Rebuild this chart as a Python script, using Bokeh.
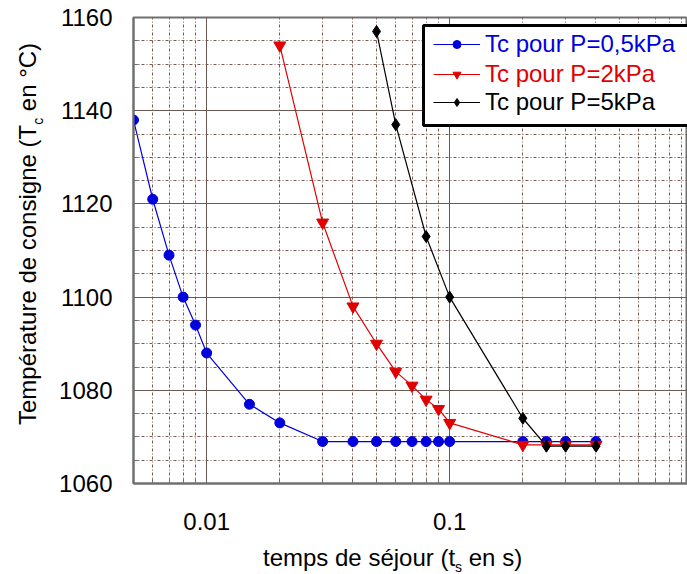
from bokeh.plotting import figure
from bokeh.models import (Legend, LegendItem, BoxAnnotation, FixedTicker, Div)
from bokeh.layouts import row, column
from bokeh.embed import file_html
from bokeh.resources import INLINE

# ---- data ----
t_05 = [0.005, 0.006, 0.007, 0.008, 0.009, 0.01, 0.015, 0.02, 0.03, 0.04, 0.05,
        0.06, 0.07, 0.08, 0.09, 0.1, 0.2, 0.25, 0.3, 0.4]
T_05 = [1138, 1121, 1109, 1100, 1094, 1088, 1077, 1073, 1069, 1069, 1069,
        1069, 1069, 1069, 1069, 1069, 1069, 1069, 1069, 1069]

t_2 = [0.02, 0.03, 0.04, 0.05, 0.06, 0.07, 0.08, 0.09, 0.1, 0.2, 0.25, 0.3, 0.4]
T_2 = [1154, 1116, 1098, 1090, 1084, 1081, 1078, 1076, 1073, 1068.3, 1068.3, 1068.3, 1068.3]

t_5 = [0.05, 0.06, 0.08, 0.1, 0.2, 0.25, 0.3, 0.4]
T_5 = [1157, 1137, 1113, 1100, 1074, 1068, 1068, 1068]

labels = ["Tc pour P=0,5kPa", "Tc pour P=2kPa", "Tc pour P=5kPa"]
colors = ["#0000dd", "#e00000", "#000000"]

x_major = [0.01, 0.1]
x_minor = [0.006, 0.007, 0.008, 0.009,
           0.02, 0.03, 0.04, 0.05, 0.06, 0.07, 0.08, 0.09,
           0.2, 0.3, 0.4, 0.5, 0.6, 0.7, 0.8, 0.9]
y_major = [1060, 1080, 1100, 1120, 1140, 1160]
y_minor = [1065, 1070, 1075, 1085, 1090, 1095, 1105, 1110, 1115,
           1125, 1130, 1135, 1145, 1150, 1155]

FONT = "Liberation Sans"

p = figure(width=639, height=540, x_axis_type="log",
           x_range=(0.005, 0.952), y_range=(1060, 1160),
           output_backend="svg", toolbar_location=None,
           min_border_left=85, min_border_right=0,
           min_border_top=17, min_border_bottom=57, margin=0)

p.outline_line_color = "#707070"
p.outline_line_width = 2

p.xaxis.ticker = FixedTicker(ticks=x_major, minor_ticks=x_minor)
p.yaxis.ticker = FixedTicker(ticks=y_major, minor_ticks=y_minor)
p.xaxis.major_label_overrides = {0.01: "0.01", 0.1: "0.1"}

for ax in (p.xaxis[0], p.yaxis[0]):
    ax.axis_line_color = "#707070"
    ax.axis_line_width = 2
    ax.major_tick_in = 0
    ax.major_tick_out = 0
    ax.minor_tick_in = 5
    ax.minor_tick_out = 0
    ax.minor_tick_line_color = "#707070"
    ax.major_label_text_font = FONT
    ax.major_label_text_font_size = "24px"
    ax.major_label_text_color = "#000000"
p.xaxis.major_label_standoff = 29
p.yaxis.major_label_standoff = 21

p.grid.grid_line_color = "#6e5a55"
p.grid.grid_line_width = 1
p.grid.minor_grid_line_color = "#7a5a50"
p.grid.minor_grid_line_dash = "3 2 1 2"
p.grid.minor_grid_line_width = 1

series = [(t_05, T_05, "circle", 10), (t_2, T_2, "inverted_triangle", 12),
          (t_5, T_5, "diamond", 12)]
rends = []
for (xs, ys, mk, sz), c in zip(series, colors):
    lr = p.line(xs, ys, line_color=c, line_width=1.2)
    sr = p.scatter(xs, ys, marker=mk, size=sz, fill_color=c, line_color=c)
    rends.append((lr, sr))

# legend box
box = BoxAnnotation(left=290, right=570, top=458, bottom=358,
                    left_units="screen", right_units="screen",
                    top_units="screen", bottom_units="screen",
                    fill_color="white", fill_alpha=1.0,
                    line_color="black", line_width=3, line_alpha=1.0)
p.add_layout(box)

row_y = [425, 395, 367]
for (lr, sr), lab, c, vy in zip(rends, labels, colors, row_y):
    leg = Legend(items=[LegendItem(label=lab, renderers=[lr, sr])],
                 location=(300, vy), padding=0, margin=0, spacing=0,
                 glyph_width=47, glyph_height=20, label_standoff=5,
                 label_height=20, label_text_font=FONT,
                 label_text_font_size="24px", label_text_color=c,
                 border_line_color=None, background_fill_alpha=0)
    p.add_layout(leg)

# axis titles with subscripts (HTML text)
y_html = ('<div style="position:absolute; left:16px; top:425px; '
          'transform:rotate(-90deg); transform-origin:0 0; white-space:nowrap; '
          'font-family:\'Liberation Sans\'; font-size:24px; line-height:24px; color:#000;">'
          'Température de consigne (T<span style="font-size:14px; line-height:14px; '
          'vertical-align:-7px;">c</span> en °C)</div>')
x_html = ('<div style="padding-left:215px; padding-top:6px; white-space:nowrap; '
          'font-family:\'Liberation Sans\'; font-size:24px; line-height:24px; color:#000;">'
          'temps de séjour (t<span style="font-size:14px; line-height:14px; '
          'vertical-align:-6px;">s</span> en s)</div>')

ydiv = Div(text=y_html, width=48, height=574, margin=0,
           styles={"position": "relative"})
xdiv = Div(text=x_html, width=639, height=34, margin=0)

layout = row(ydiv, column(p, xdiv, spacing=0, margin=0), spacing=0, margin=0)

open("out.html", "w").write(file_html(layout, INLINE))
